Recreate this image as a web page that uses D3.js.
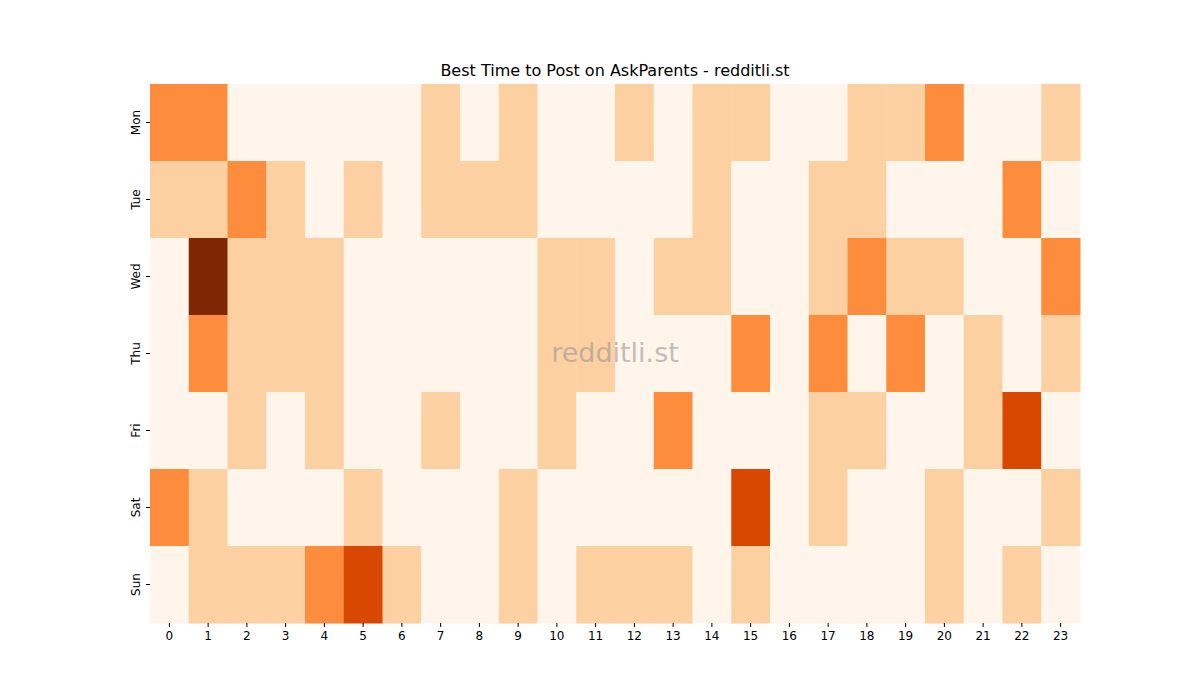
<!DOCTYPE html>
<html><head><meta charset="utf-8">
<script src="https://cdn.jsdelivr.net/npm/d3@7"></script>
<style>body{margin:0;background:#fff}text{font-family:"DejaVu Sans",sans-serif}</style>
</head><body><svg id="c" width="1200" height="700"></svg>
<script>
const days = ["Mon","Tue","Wed","Thu","Fri","Sat","Sun"];
const hours = d3.range(24).map(String);
const Mon = [2,2,0,0,0,0,0,1,0,1,0,0,1,0,1,1,0,0,1,1,2,0,0,1];
const Tue = [1,1,2,1,0,1,0,1,1,1,0,0,0,0,1,0,0,1,1,0,0,0,2,0];
const Wed = [0,4,1,1,1,0,0,0,0,0,1,1,0,1,1,0,0,1,2,1,1,0,0,2];
const Thu = [0,2,1,1,1,0,0,0,0,0,1,1,0,0,0,2,0,2,0,2,0,1,0,1];
const Fri = [0,0,1,0,1,0,0,1,0,0,1,0,0,2,0,0,0,1,1,0,0,1,3,0];
const Sat = [2,1,0,0,0,1,0,0,0,1,0,0,0,0,0,3,0,1,0,0,1,0,0,1];
const Sun = [0,1,1,1,2,3,1,0,0,1,0,1,1,1,0,1,0,0,0,0,1,0,1,0];
const rows = [Mon,Tue,Wed,Thu,Fri,Sat,Sun];
const levels = [0,1,2,3,4];
const palette = ["#fff5eb","#fdd0a2","#fd8d3c","#d94801","#7f2704"];

const svg = d3.select("#c");
const m = {l:150,t:84,r:1080,b:623};
const x = d3.scaleBand().domain(hours).range([m.l,m.r]);
const y = d3.scaleBand().domain(days).range([m.t,m.b]);
const color = d3.scaleOrdinal().domain(levels).range(palette);

const cells = [];
rows.forEach((r,i)=>r.forEach((v,j)=>cells.push({d:days[i],h:hours[j],v})));
svg.append("g").selectAll("rect").data(cells).join("rect")
  .attr("x",d=>x(d.h)).attr("y",d=>y(d.d))
  .attr("width",x.bandwidth()+0.5).attr("height",y.bandwidth()+0.5)
  .attr("fill",d=>color(d.v));

const xa = svg.append("g").attr("transform",`translate(0,${m.b})`)
  .call(d3.axisBottom(x).tickSize(4).tickPadding(4));
xa.select(".domain").remove();
xa.selectAll("text").attr("font-size",12).attr("fill","#000");
const ya = svg.append("g").attr("transform",`translate(${m.l},0)`)
  .call(d3.axisLeft(y).tickSize(4).tickPadding(4));
ya.select(".domain").remove();
ya.selectAll("text").attr("font-size",12).attr("fill","#000")
  .attr("text-anchor","middle").attr("transform",function(){return ""})
  .each(function(){
    const t=d3.select(this); t.attr("x",null).attr("dy",null);
    t.attr("transform","translate(-14,0) rotate(-90)").attr("dy","0.32em");
  });

svg.append("text").attr("x",615).attr("y",76).attr("text-anchor","middle")
  .attr("font-size",16).text("Best Time to Post on AskParents - redditli.st");
svg.append("text").attr("x",615).attr("y",362).attr("text-anchor","middle")
  .attr("font-size",27).attr("fill","#999").attr("opacity",0.6).text("redditli.st");
</script></body></html>
